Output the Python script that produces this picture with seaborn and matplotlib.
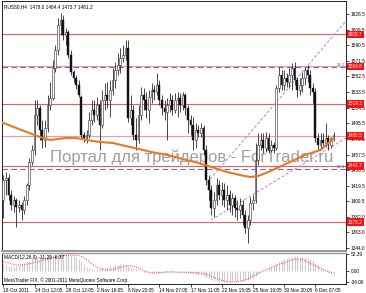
import numpy as np
import pandas as pd
import matplotlib
matplotlib.use("Agg")
import matplotlib.pyplot as plt
import seaborn as sns
from matplotlib.transforms import blended_transform_factory

sns.set_style("white")
plt.rcParams['font.family'] = ['Liberation Sans', 'DejaVu Sans']

# ---------------- data ----------------
title_text = "RUSS0,H4  1478.0 1484.4 1473.7 1481.2"
opens = [1402.3, 1426.6, 1429.1, 1408.4, 1396.3, 1402.3, 1393.8, 1396.3, 1390.2, 1402.3,
         1420.6, 1448.5, 1463.1, 1505.7, 1514.2, 1487.4, 1475.3, 1489.9, 1517.9, 1526.3,
         1562.8, 1584.7, 1615.1, 1621.2, 1603.0, 1606.6, 1578.6, 1558.0, 1550.7, 1542.2,
         1527.6, 1481.4, 1477.7, 1481.4, 1499.6, 1511.8, 1505.7, 1517.9, 1493.5, 1523.9,
         1530.0, 1523.9, 1536.1, 1548.2, 1560.4, 1566.5, 1575.0, 1578.6, 1587.1, 1502.0,
         1511.8, 1481.4, 1475.3, 1505.7, 1530.0, 1523.9, 1511.8, 1527.6, 1536.1, 1533.6,
         1542.2, 1523.9, 1514.2, 1509.3, 1517.9, 1523.9, 1511.8, 1523.9, 1526.3, 1517.9,
         1530.0, 1514.2, 1499.6, 1493.5, 1475.3, 1487.4, 1483.8, 1489.9, 1463.1, 1426.6,
         1414.5, 1392.6, 1402.3, 1420.6, 1408.4, 1414.5, 1402.3, 1408.4, 1396.3, 1404.8,
         1392.6, 1390.2, 1396.3, 1384.1, 1368.3, 1378.0, 1398.7, 1402.3, 1451.0, 1469.2,
         1475.3, 1465.6, 1477.7, 1463.1, 1469.2, 1465.6, 1538.5, 1554.3, 1542.2, 1550.7,
         1545.8, 1554.3, 1562.8, 1548.2, 1536.1, 1542.2, 1550.7, 1560.4, 1554.3, 1538.5,
         1533.6, 1477.7, 1469.2, 1475.3, 1471.7, 1477.7, 1469.2, 1478.0]
closes = [1426.6, 1429.1, 1408.4, 1396.3, 1402.3, 1393.8, 1396.3, 1390.2, 1402.3, 1420.6,
          1448.5, 1463.1, 1505.7, 1514.2, 1487.4, 1475.3, 1489.9, 1517.9, 1526.3, 1562.8,
          1584.7, 1615.1, 1621.2, 1603.0, 1606.6, 1578.6, 1558.0, 1550.7, 1542.2, 1530.0,
          1481.4, 1477.7, 1481.4, 1499.6, 1511.8, 1505.7, 1517.9, 1493.5, 1523.9, 1530.0,
          1523.9, 1536.1, 1548.2, 1560.4, 1566.5, 1575.0, 1578.6, 1587.1, 1502.0, 1511.8,
          1481.4, 1475.3, 1505.7, 1530.0, 1523.9, 1511.8, 1527.6, 1536.1, 1533.6, 1542.2,
          1523.9, 1514.2, 1509.3, 1517.9, 1523.9, 1511.8, 1523.9, 1526.3, 1517.9, 1530.0,
          1514.2, 1499.6, 1493.5, 1475.3, 1487.4, 1483.8, 1489.9, 1463.1, 1426.6, 1414.5,
          1392.6, 1402.3, 1420.6, 1408.4, 1414.5, 1402.3, 1408.4, 1396.3, 1404.8, 1392.6,
          1390.2, 1396.3, 1384.1, 1368.3, 1378.0, 1398.7, 1402.3, 1451.0, 1469.2, 1475.3,
          1465.6, 1477.7, 1463.1, 1469.2, 1465.6, 1538.5, 1554.3, 1542.2, 1550.7, 1545.8,
          1554.3, 1562.8, 1548.2, 1536.1, 1542.2, 1550.7, 1560.4, 1554.3, 1538.5, 1533.6,
          1477.7, 1469.2, 1475.3, 1471.7, 1477.7, 1469.2, 1478.0, 1481.2]
highs = [1432.7, 1436.4, 1434.0, 1414.5, 1407.2, 1404.8, 1402.3, 1399.9, 1407.2, 1423.0,
         1453.4, 1469.2, 1523.9, 1523.9, 1517.9, 1499.6, 1499.6, 1530.0, 1545.8, 1572.6,
         1590.8, 1623.6, 1629.7, 1627.3, 1611.5, 1609.0, 1584.7, 1560.4, 1554.3, 1548.2,
         1530.0, 1485.0, 1487.4, 1509.3, 1523.9, 1523.9, 1527.6, 1523.9, 1536.1, 1544.6,
         1545.8, 1548.2, 1562.8, 1570.1, 1581.1, 1587.1, 1590.8, 1596.9, 1596.9, 1530.0,
         1517.9, 1502.0, 1517.9, 1539.7, 1538.5, 1533.6, 1536.1, 1544.6, 1542.2, 1556.7,
         1548.2, 1530.0, 1523.9, 1526.3, 1532.4, 1530.0, 1532.4, 1533.6, 1532.4, 1533.6,
         1532.4, 1517.9, 1505.7, 1503.3, 1496.0, 1493.5, 1496.0, 1493.5, 1469.2, 1432.7,
         1420.6, 1412.1, 1429.1, 1426.6, 1424.2, 1423.0, 1420.6, 1414.5, 1410.8, 1408.4,
         1402.3, 1404.8, 1402.3, 1390.2, 1384.1, 1406.0, 1408.4, 1471.7, 1483.8, 1483.8,
         1483.8, 1485.0, 1483.8, 1475.3, 1472.9, 1542.2, 1564.0, 1560.4, 1560.4, 1556.7,
         1562.8, 1568.9, 1570.1, 1551.9, 1550.7, 1558.0, 1564.0, 1566.5, 1560.4, 1544.6,
         1538.5, 1483.8, 1483.8, 1483.8, 1496.0, 1481.4, 1479.0, 1484.4]
lows = [1380.5, 1408.4, 1402.3, 1390.2, 1387.7, 1369.5, 1387.7, 1378.0, 1385.3, 1396.3,
        1414.5, 1444.9, 1457.1, 1493.5, 1475.3, 1465.6, 1466.8, 1485.0, 1511.8, 1523.9,
        1558.0, 1578.6, 1603.0, 1596.9, 1590.8, 1575.0, 1554.3, 1545.8, 1537.3, 1527.6,
        1477.7, 1472.9, 1471.7, 1477.7, 1493.5, 1497.2, 1499.6, 1463.1, 1489.9, 1511.8,
        1514.2, 1503.3, 1530.0, 1538.5, 1554.3, 1556.7, 1570.1, 1572.6, 1497.2, 1493.5,
        1475.3, 1463.1, 1471.7, 1499.6, 1511.8, 1502.0, 1496.0, 1520.3, 1523.9, 1530.0,
        1517.9, 1505.7, 1499.6, 1475.3, 1509.3, 1505.7, 1508.1, 1503.3, 1509.3, 1511.8,
        1505.7, 1483.8, 1481.4, 1463.1, 1465.6, 1479.0, 1479.0, 1457.1, 1420.6, 1402.3,
        1384.1, 1381.7, 1396.3, 1402.3, 1396.3, 1393.8, 1390.2, 1387.7, 1384.1, 1381.7,
        1378.0, 1380.5, 1371.9, 1362.2, 1350.1, 1371.9, 1390.2, 1398.7, 1444.9, 1463.1,
        1459.5, 1460.7, 1459.5, 1460.7, 1459.5, 1463.1, 1533.6, 1536.1, 1536.1, 1539.7,
        1538.5, 1536.1, 1542.2, 1527.6, 1530.0, 1533.6, 1542.2, 1545.8, 1530.0, 1520.3,
        1472.9, 1463.1, 1463.1, 1465.6, 1466.8, 1463.1, 1465.6, 1473.7]

# moving average, read at sample bars
ma_bars = [-1, 0, 4, 9, 14, 18, 21, 24, 28, 32, 37, 42, 47, 52, 57, 63, 69, 75, 80, 86,
           91, 95, 98, 102, 107, 111, 116, 122, 127]
ma_vals = [1496.6, 1496.0, 1491.1, 1485.0, 1479.0, 1475.3, 1476.5, 1477.7, 1477.7, 1475.3,
           1472.9, 1471.7, 1468.0, 1464.4, 1460.7, 1457.1, 1452.2, 1447.3, 1442.5, 1436.4,
           1432.7, 1430.3, 1431.5, 1436.4, 1443.7, 1449.7, 1457.1, 1463.1, 1477.0]

# horizontal levels
level_prices = [1603.7, 1564.8, 1519.3, 1480.5, 1443.7, 1375.2]
level_labels = ["1603.7", "1564.8", "1519.3", "1480.5", "1443.7", "1375.2"]
fib_prices = [1563.5, 1440.0]
fib_labels = ["38.2", "61.8"]

# trend lines (bar, price) endpoints
trend_upper_x = [78.3, 131.8]
trend_upper_y = [1423.0, 1620.0]
trend_lower_x = [79.9, 131.8]
trend_lower_y = [1378.0, 1477.7]

price_ticks = [1628.5, 1609.5, 1590.5, 1571.5, 1552.5, 1533.5, 1514.5, 1495.5, 1476.5,
               1457.5, 1438.5, 1419.5, 1400.5, 1382.0, 1363.0, 1344.0]
price_tick_labels = ["1628.5", "1609.5", "1590.5", "1571.5", "1552.5", "1533.5", "1514.5",
                     "1495.5", "1476.5", "1457.5", "1438.5", "1419.5", "1400.5", "1382.0",
                     "1363.0", "1344.0"]

date_tick_bars = [0, 12, 24, 36, 48, 60, 72, 84, 96, 108, 120]
date_labels = ["18 Oct 2011", "24 Oct 12:05", "28 Oct 12:05", "2 Nov 16:05", "8 Nov 20:05",
               "14 Nov 07:05", "17 Nov 11:05", "22 Nov 15:05", "25 Nov 16:05",
               "30 Nov 20:05", "6 Dec 07:05"]

macd_main = [20, 17, 14, 12, 12, 14, 17, 21, 25, 28,
             32, 36, 40, 43, 44, 44, 45, 47, 49, 50,
             50, 51, 52, 52.39, 52, 51, 49, 46, 42, 36,
             28, 20, 13, 8, 5, 4, 5, 6, 8, 10,
             12, 14, 16, 18, 19, 20, 20, 19, 16, 13,
             10, 6, 3, 0, -2, -3, -4, -5, -6, -6,
             -5, -4, -4, -3, -3, -2, -2, -2, -3, -3,
             -4, -5, -7, -9, -10, -11, -13, -15, -19, -23,
             -27, -30, -32, -33, -34, -34, -33, -33, -32, -31,
             -30, -29, -29, -29, -28, -25, -22, -15, -9, -4,
             0, 4, 8, 12, 15, 22, 28, 33, 37, 40,
             42, 44, 45, 45, 44, 43, 42, 40, 37, 33,
             25, 17, 10, 4, -1, -5, -8, -11.29]
macd_signal = [29, 27, 25, 22, 20, 18.5, 18, 19, 20, 21,
               22, 24, 26, 28, 30, 32, 34, 36, 38, 40,
               42, 44, 46, 47, 48, 48.5, 49, 49, 48.5, 47,
               45, 42, 36, 29, 22, 17, 12, 8, 6, 4,
               3, 3, 4, 6, 9, 12, 13, 15, 16, 16,
               15, 12, 9, 5, 1, -2, -4, -6, -6, -6,
               -5, -5, -4, -3, -3, -3, -3, -4, -4, -4,
               -4, -4, -5, -5, -6, -6, -7, -8, -10, -13,
               -17, -20, -23, -26, -29, -31, -33, -34, -34, -34,
               -33, -31, -30, -28, -25, -21, -16, -12, -8, -4,
               0, 3, 7, 10, 14, 17, 20, 23, 25, 28,
               31, 34, 36, 37, 37, 35, 32, 28, 24, 20,
               16, 12, 8, 4, 1, -2, -4, -6.37]
macd_ticks = [52.39, 0.0, -34.0]
macd_tick_labels = ["52.39", "0.00", "-34.00"]
macd_title = "MACD(12,26,9) -11.29 -6.37"
copyright_text = "MetaTrader FIX, \u00a9 2001-2011 MetaQuotes Software Corp."
watermark = "Портал для трейдеров - ForTrader.ru"

df = pd.DataFrame({"o": opens, "h": highs, "l": lows, "c": closes})
df["bar"] = np.arange(len(df))

# ---------------- figure ----------------
W, H = 366, 293
fig = plt.figure(figsize=(W / 100, H / 100), dpi=100)
fig.patch.set_facecolor("white")
ax = fig.add_axes([2 / W, 42 / H, 344 / W, 250 / H])
axm = fig.add_axes([2 / W, 9 / H, 344 / W, 31.5 / H], sharex=ax)

FS = 3.4
ax.set_xlim(-0.5, 131.8)
ax.set_ylim(1340.3, 1644.3)

# watermark
ax.text(0.552, 0.376, watermark, transform=ax.transAxes, ha="center", va="center",
        fontsize=12, color="#a59d9d", zorder=1.5, family=["Liberation Sans", "DejaVu Sans"])

# levels
lev_colors = ["#f05a5a", "#f49a9a", "#f05a5a", "#f49a9a", "#f05a5a", "#f05a5a"]
for p, col in zip(level_prices, lev_colors):
    ax.axhline(p, color=col, lw=0.8, zorder=2)
for p in fib_prices:
    ax.axhline(p, color="#6a6ac8", lw=0.8, ls=(0, (5, 3)), zorder=2.1)

# trend lines
ax.plot(trend_upper_x, trend_upper_y, color="#c27ad6", lw=0.7, ls=(0, (3, 2)), zorder=2.2)
ax.plot(trend_lower_x, trend_lower_y, color="#c27ad6", lw=0.7, ls=(0, (3, 2)), zorder=2.2)

# candles
ax.vlines(df["bar"], df["l"], df["h"], color="#2a2a2a", lw=0.6, zorder=3)
bull = df[df["c"] >= df["o"]]
bear = df[df["c"] < df["o"]]
ax.bar(bull["bar"], bull["c"] - bull["o"], bottom=bull["o"], width=0.7,
       color="white", edgecolor="#2a2a2a", linewidth=0.4, zorder=3.1)
ax.bar(bear["bar"], bear["o"] - bear["c"], bottom=bear["c"], width=0.7,
       color="#111111", edgecolor="#111111", linewidth=0.3, zorder=3.1)

# moving average
sns.lineplot(x=ma_bars, y=ma_vals, ax=ax, color="#e67a24", lw=1.5, zorder=4)

# axis styling main
ax.yaxis.tick_right()
ax.set_yticks(price_ticks)
ax.set_yticklabels(price_tick_labels)
ax.tick_params(axis="y", which="both", right=True, left=False, length=2, width=0.5,
               pad=1.2, labelsize=FS, colors="#000000")
ax.tick_params(axis="x", bottom=False, labelbottom=False)
ax.set_xlabel("")
ax.set_ylabel("")
for s in ["left", "top", "right"]:
    ax.spines[s].set_color("#000000")
    ax.spines[s].set_linewidth(0.6)
ax.spines["bottom"].set_color("#9a9a9a")
ax.spines["bottom"].set_linewidth(1.5)

trans = blended_transform_factory(ax.transAxes, ax.transData)
for p, lab in zip(level_prices, level_labels):
    ax.text(1.006, p, lab, transform=trans, ha="left", va="center", fontsize=FS,
            color="white", zorder=10, clip_on=False,
            bbox=dict(boxstyle="square,pad=0.28", fc="#ff1010", ec="none"))
for p, lab in zip(fib_prices, fib_labels):
    ax.text(0.997, p, lab, transform=trans, ha="right", va="bottom", fontsize=3.0,
            color="#5050a8", zorder=10)

ax.text(0.006, 0.987, title_text, transform=ax.transAxes, ha="left", va="top",
        fontsize=FS, color="#000000")

# ---------------- MACD ----------------
bars = np.arange(len(macd_main))
axm.vlines(bars, 0, macd_main, color="#cbcbcb", lw=0.8, zorder=2)
sns.lineplot(x=bars, y=macd_signal, ax=axm, color="#ff3a3a", lw=0.7,
             linestyle=(0, (1, 1.2)), zorder=3)
axm.set_ylim(-40.2, 57.0)
axm.yaxis.tick_right()
axm.set_yticks(macd_ticks)
axm.set_yticklabels(macd_tick_labels)
axm.tick_params(axis="y", right=True, left=False, length=2, width=0.5, pad=1.2,
                labelsize=FS, colors="#000000")
axm.set_xticks(date_tick_bars)
axm.set_xticklabels(date_labels, ha="left")
axm.tick_params(axis="x", bottom=True, length=2, width=0.5, pad=0.8, labelsize=FS,
                colors="#000000")
axm.set_xlim(-0.5, 131.8)
axm.set_xlabel("")
axm.set_ylabel("")
for s in ["left", "bottom", "right"]:
    axm.spines[s].set_color("#000000")
    axm.spines[s].set_linewidth(0.6)
axm.spines["top"].set_color("#9a9a9a")
axm.spines["top"].set_linewidth(1.0)
axm.text(0.006, 0.93, macd_title, transform=axm.transAxes, ha="left", va="top",
         fontsize=FS, color="#000000", zorder=5)
axm.text(0.006, 0.04, copyright_text, transform=axm.transAxes, ha="left", va="bottom",
         fontsize=FS, color="#000000", zorder=5)

fig.savefig("out.png", dpi=100, facecolor="white")
